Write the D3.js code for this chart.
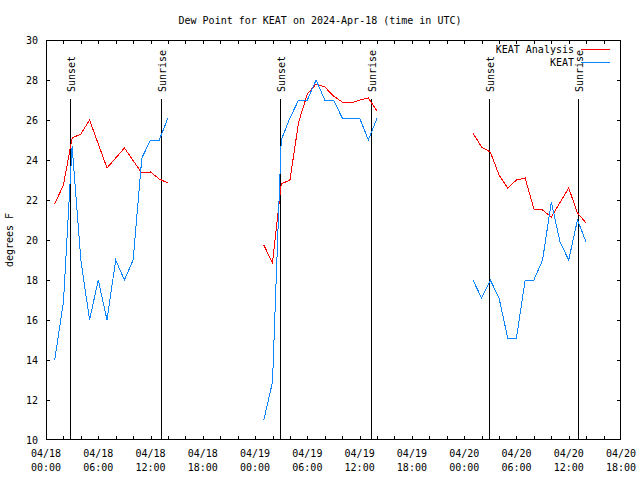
<!DOCTYPE html>
<html><head><meta charset="utf-8">
<script src="https://cdn.jsdelivr.net/npm/d3@7"></script>
<style>body{margin:0;background:#fff}svg{display:block}text{font-family:"DejaVu Sans Mono",monospace;font-size:10px;fill:#000}</style>
</head><body><svg id="c" width="640" height="480"></svg>
<script>
// hours since 2024-04-18 00:00 UTC; null marks a gap
const analysisHours = [1,2,3,4,5,7,9,11,12,13,14,null,25,26,27,28,29,30,31,32,33,34,35,36,37,38,null,49,50,51,52,53,54,55,56,57,58,60,61,62];
const analysisValues = [21.8,22.75,25.1,25.3,26.0,23.6,24.6,23.35,23.4,23.05,22.85,null,19.75,18.85,22.8,23.0,25.9,27.3,27.8,27.65,27.2,26.9,26.85,27.0,27.1,26.45,null,25.35,24.65,24.4,23.25,22.6,23.0,23.1,21.55,21.5,21.15,22.6,21.35,20.85];
const obsHours = [1,2,3,4,5,6,7,8,9,10,11,12,13,14,null,25,26,27,28,29,30,31,32,33,34,35,36,37,38,null,49,50,51,52,53,54,55,56,57,58,59,60,61,62];
const obsValues = [14.0,16.9,24.7,19.0,16.0,18.0,16.0,19.0,18.0,19.0,24.1,25.0,25.0,26.1,null,11.0,12.9,25.0,26.1,27.0,27.0,28.0,27.0,27.0,26.1,26.1,26.1,25.0,26.1,null,18.0,17.1,18.0,17.1,15.1,15.1,18.0,18.0,19.0,21.9,19.9,19.0,21.0,19.9];
const sunsetHours = [2.8, 26.85, 50.9];
const sunriseHours = [13.25, 37.3, 61.1];
const yTicks = [10,12,14,16,18,20,22,24,26,28,30];
const seriesNames = ["KEAT Analysis","KEAT"];
const seriesColors = ["#ff0000","#0a84ff"];
const titleText = "Dew Point for KEAT on 2024-Apr-18 (time in UTC)";
const yLabel = "degrees F";

const t0 = Date.UTC(2024,3,18,0);
const H = 3600e3;
const svg = d3.select("#c");
const L=46,R=621,T=40,B=440;
const x = d3.scaleUtc().domain([new Date(t0), new Date(t0+66*H)]).range([L,R]);
const y = d3.scaleLinear().domain([10,30]).range([B,T]);
const toDate = h => new Date(t0 + h*H);

// title
svg.append("text").attr("x",320).attr("y",24).attr("text-anchor","middle").text(titleText);

// border
svg.append("rect").attr("x",L+0.5).attr("y",T+0.5).attr("width",R-L-1).attr("height",B-T-1)
  .attr("fill","none").attr("stroke","#000").attr("shape-rendering","crispEdges");

const g = svg.append("g").attr("shape-rendering","crispEdges");
// x ticks every 2 hours, both sides
const xt = d3.range(2,66,2).map(toDate);
xt.forEach(d=>{
  const px = Math.round(x(d))+0.5;
  g.append("line").attr("x1",px).attr("x2",px).attr("y1",B).attr("y2",B-4).attr("stroke","#000");
  g.append("line").attr("x1",px).attr("x2",px).attr("y1",T).attr("y2",T+4).attr("stroke","#000");
});
// x labels every 6 hours
const fmt1 = d3.utcFormat("%m/%d"), fmt2 = d3.utcFormat("%H:%M");
d3.range(0,67,6).map(toDate).forEach(d=>{
  const t = svg.append("text").attr("x",x(d)).attr("y",457).attr("text-anchor","middle");
  t.append("tspan").attr("x",x(d)).text(fmt1(d));
  t.append("tspan").attr("x",x(d)).attr("y",471).text(fmt2(d));
});
// y ticks
yTicks.forEach(v=>{
  const py = Math.round(y(v))+0.5;
  if(v>10 && v<30){
    g.append("line").attr("x1",L).attr("x2",L+4).attr("y1",py).attr("y2",py).attr("stroke","#000");
    g.append("line").attr("x1",R-4).attr("x2",R).attr("y1",py).attr("y2",py).attr("stroke","#000");
  }
  svg.append("text").attr("x",38).attr("y",y(v)).attr("dy","0.35em").attr("text-anchor","end").text(v);
});
svg.append("text").attr("transform","translate(13,240) rotate(-90)").attr("text-anchor","middle").text(yLabel);

// sunset / sunrise lines
function marker(h,label){
  const px = Math.round(x(toDate(h)))+0.5;
  g.append("line").attr("x1",px).attr("x2",px).attr("y1",99).attr("y2",B).attr("stroke","#000");
  svg.append("text").attr("transform",`translate(${px+4},92) rotate(-90)`).attr("text-anchor","start").text(label);
}
sunsetHours.forEach(h=>marker(h,"Sunset"));
sunriseHours.forEach(h=>marker(h,"Sunrise"));

// series
const line = d3.line().defined(d=>d[1]!==null).x(d=>x(toDate(d[0]))).y(d=>y(d[1]));
const series = [d3.zip(analysisHours,analysisValues), d3.zip(obsHours,obsValues)];
series.forEach((s,i)=>{
  svg.append("path").datum(s).attr("d",line).attr("fill","none").attr("stroke",seriesColors[i])
    .attr("stroke-width",1).attr("shape-rendering","crispEdges");
});

// legend
seriesNames.forEach((n,i)=>{
  const ly = 49 + i*13;
  svg.append("text").attr("x",574).attr("y",ly).attr("dy","0.35em").attr("text-anchor","end").text(n);
  g.append("line").attr("x1",581).attr("x2",610).attr("y1",ly+0.5).attr("y2",ly+0.5).attr("stroke",seriesColors[i]);
});
</script></body></html>
